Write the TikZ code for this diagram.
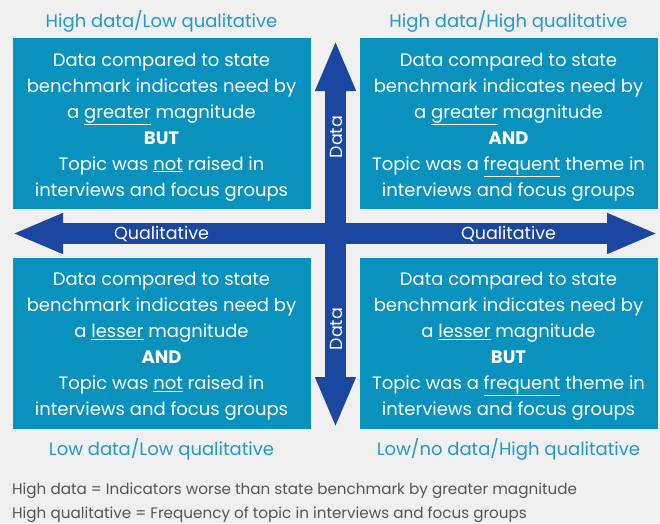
\documentclass[tikz,border=0pt]{standalone}
\usepackage{fontspec}
\setmainfont{Poppins}
\usepackage{tikz}
\usetikzlibrary{arrows.meta}

\definecolor{bgray}{HTML}{F0F0F0}
\definecolor{boxblue}{HTML}{0A92BE}
\definecolor{axisblue}{HTML}{1B47A0}
\definecolor{headblue}{HTML}{2299CC}
\definecolor{notegray}{HTML}{555555}

\newcommand{\toplift}{\rule{0pt}{20pt}}

\tikzset{
  quad/.style={fill=boxblue, text=white, align=center, inner sep=0pt,
    minimum width=298pt, minimum height=171pt,
    font=\fontsize{18}{26}\selectfont},
  heading/.style={text=headblue, font=\fontsize{18}{20}\selectfont},
  axis/.style={draw=axisblue, line width=21pt,
    {Triangle[length=51pt 0 0,width=37pt 0 0]}-{Triangle[length=51pt 0 0,width=37pt 0 0]}},
  axislabel/.style={text=white, font=\fontsize{17.5}{18}\selectfont},
  note/.style={text=notegray, anchor=west, inner sep=0pt, font=\fontsize{15.2}{16}\selectfont}
}

\begin{document}
\begin{tikzpicture}[x=1pt,y=-1pt]
  \fill[bgray] (0,0) rectangle (660,523);
  \useasboundingbox (0,0) rectangle (660,523);

  % the four quadrants
  \node[quad] (hl) at (161.5,123.5) {\toplift Data compared to state\\benchmark indicates need by\\a \underline{greater} magnitude\\\textbf{BUT}\\Topic was \underline{not} raised in\\interviews and focus groups};
  \node[quad] (hh) at (508.5,123.5) {\toplift Data compared to state\\benchmark indicates need by\\a \underline{greater} magnitude\\\textbf{AND}\\Topic was a \underline{frequent} theme in\\interviews and focus groups};
  \node[quad] (ll) at (161.5,343) {\toplift Data compared to state\\benchmark indicates need by\\a \underline{lesser} magnitude\\\textbf{AND}\\Topic was \underline{not} raised in\\interviews and focus groups};
  \node[quad] (lh) at (508.5,343) {\toplift Data compared to state\\benchmark indicates need by\\a \underline{lesser} magnitude\\\textbf{BUT}\\Topic was a \underline{frequent} theme in\\interviews and focus groups};

  % headings
  \node[heading] (hlt) at (161.5,21) {High data/Low qualitative};
  \node[heading] (hht) at (508.5,21) {High data/High qualitative};
  \node[heading] (llt) at (161.5,449) {Low data/Low qualitative};
  \node[heading] (lht) at (508.5,449) {Low/no data/High qualitative};

  % axes
  \coordinate (west) at (12,233.5);
  \coordinate (east) at (658,233.5);
  \coordinate (north) at (335.5,40);
  \coordinate (south) at (335.5,428);
  \draw[axis] (west) -- (east);
  \draw[axis] (north) -- (south);

  \node[axislabel] (ql) at (161.5,234) {Qualitative};
  \node[axislabel] (qr) at (508.5,234) {Qualitative};
  \node[axislabel, rotate=90] (dt) at (336,137) {Data};
  \node[axislabel, rotate=90] (db) at (336,329) {Data};

  % notes
  \node[note] (n1) at (12,490.5) {High data = Indicators worse than state benchmark by greater magnitude};
  \node[note] (n2) at (12,514.5) {High qualitative = Frequency of topic in interviews and focus groups};
\end{tikzpicture}
\end{document}
